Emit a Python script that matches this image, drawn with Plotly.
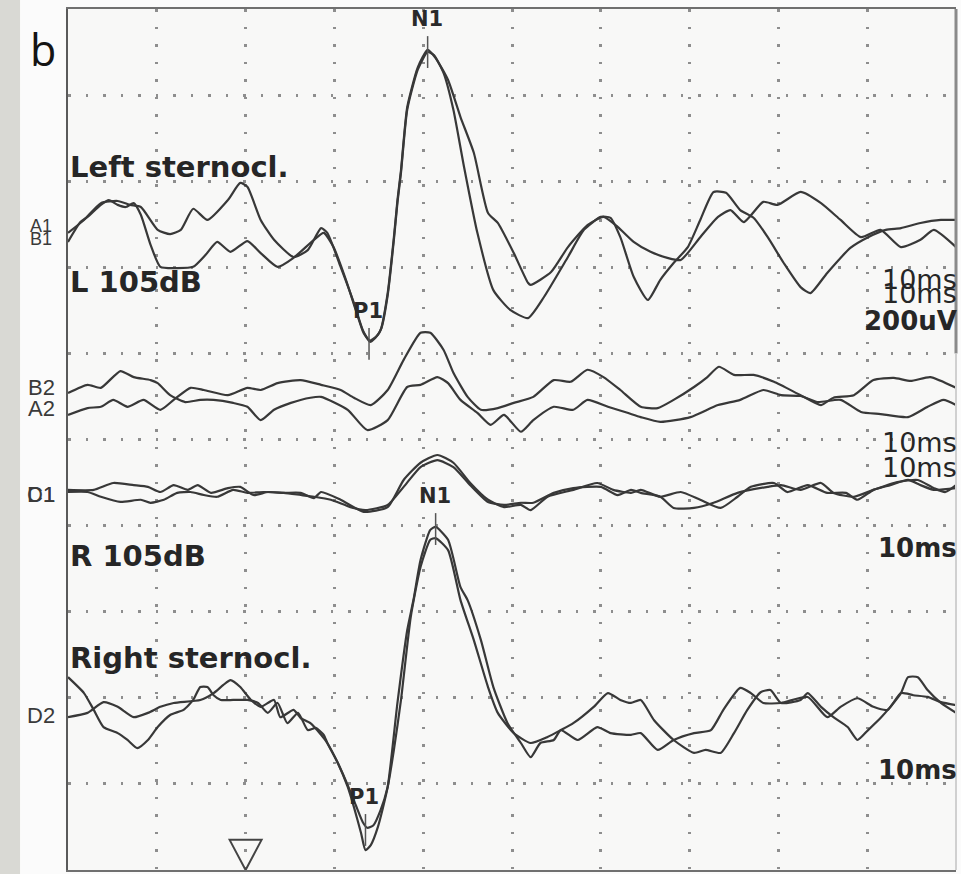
import plotly.graph_objects as go

# ---------------- data (time in ms, amplitude in µV; 10 ms/div, 200 µV/div) ----------------
channel_offset = {"1": 1500, "2": 1100, "3": 880, "4": 360}

A1 = [(-20.0, -20), (-18.2, 10), (-16.3, 49), (-14.4, 54), (-13.0, 45), (-11.8, 40), (-9.9, -13), (-8.5, -23),
      (-7.3, -13), (-5.9, 36), (-4.3, 10), (-2.0, 56), (-0.6, 96), (0.2, 87), (1.7, 10), (3.2, -36), (5.4, -76),
      (7.0, -60), (8.5, -9), (9.2, -20), (10.7, -99), (12.2, -183), (13.2, -246), (14.0, -273), (14.6, -264),
      (15.2, -246), (16.0, -160), (16.7, -30), (17.1, 56), (17.5, 126), (18.2, 272), (19.4, 365), (20.5, 405),
      (21.4, 386), (22.8, 335), (24.2, 249), (25.7, 166), (27.3, 26), (28.4, 3), (30.2, -67), (31.8, -136),
      (32.1, -141), (34.4, -111), (36.3, -53), (38.5, -2), (40.3, 17), (41.9, -6), (43.7, -41), (45.6, -64),
      (47.5, -78), (49.0, -83), (51.2, -30), (53.2, 17), (54.6, 33), (56.1, 5), (58.3, 52), (59.9, 45),
      (62.5, 75), (64.8, 49), (67.0, 10), (69.3, -30), (71.5, -13), (73.8, -53), (76.0, -36), (77.5, -13),
      (80.0, -53)]

B1 = [(-20.0, -41), (-18.6, 5), (-17.8, 17), (-16.3, 45), (-15.4, 56), (-14.4, 45), (-13.5, 40), (-12.6, 49),
      (-11.8, 22), (-10.7, -48), (-9.6, -99), (-7.9, -102), (-5.9, -99), (-4.5, -71), (-3.2, -41), (-1.7, -64),
      (0.2, -39), (1.7, -67), (3.6, -99), (5.4, -78), (7.7, -36), (8.8, -20), (9.9, -53), (11.3, -129),
      (12.4, -199), (13.3, -253), (14.0, -270), (14.8, -259), (15.3, -241), (16.0, -165), (16.7, -36),
      (17.1, 50), (17.5, 120), (18.2, 266), (19.4, 360), (20.5, 400), (21.2, 393), (22.3, 351), (23.4, 266),
      (24.6, 133), (26.1, -20), (27.9, -153), (29.8, -199), (31.8, -218), (33.6, -169), (36.3, -76),
      (38.1, -13), (40.0, 17), (41.1, 15), (42.2, -30), (43.7, -122), (45.3, -176), (46.7, -129), (48.2, -90),
      (49.8, -53), (51.2, 10), (52.7, 75), (54.1, 73), (55.7, 33), (57.2, 15), (58.8, -30), (60.6, -90),
      (62.5, -146), (63.6, -160), (65.5, -113), (68.1, -55), (70.1, -30), (72.1, -13), (73.8, -9), (76.0, 3),
      (78.3, 10), (80.0, 10)]

B2 = [(-20.0, 8), (-17.8, 27), (-16.3, 20), (-14.1, 59), (-12.6, 45), (-10.7, 38), (-9.9, 31), (-8.5, 3),
      (-6.8, -13), (-5.1, -8), (-3.6, -8), (-1.4, -15), (0.2, -24), (1.7, -55), (3.2, -31), (5.1, -15),
      (7.3, -3), (8.5, -1), (11.5, -31), (13.7, -78), (16.0, -55), (18.2, 22), (19.7, 27), (21.6, 45),
      (22.8, 31), (24.2, -8), (26.1, -38), (27.6, -66), (29.1, -43), (31.0, -82), (32.4, -55), (34.7, -24),
      (36.9, -31), (38.5, -8), (40.8, -24), (43.0, -38), (44.5, -48), (46.7, -59), (50.1, -48), (53.2, -20),
      (55.7, -8), (58.3, 15), (60.3, 3), (62.5, 1), (64.4, -13), (67.0, -8), (69.3, -36), (71.5, -41),
      (74.6, -48), (76.8, -24), (78.6, -8), (80.0, -20)]

A2 = [(-20.0, -43), (-17.8, -27), (-16.3, -24), (-14.9, -8), (-13.3, -24), (-11.5, -8), (-9.6, -31),
      (-8.1, -8), (-6.2, 20), (-4.7, 15), (-2.0, 3), (0.2, 20), (1.7, 15), (3.6, 31), (6.2, 38), (8.5, 27),
      (10.7, 15), (12.2, -3), (14.1, -20), (16.0, 15), (17.8, 85), (19.7, 148), (20.8, 148), (22.3, 108),
      (23.4, 55), (25.0, -1), (26.5, -31), (28.4, -27), (30.2, -15), (32.4, -1), (34.7, 38), (36.6, 34),
      (38.5, 62), (40.3, 45), (42.2, 15), (44.5, -24), (46.4, -27), (48.2, -8), (50.5, 22), (52.0, 45),
      (53.3, 69), (55.0, 50), (57.2, 50), (59.5, 34), (62.5, 3), (64.8, -20), (66.2, -3), (68.5, 3),
      (70.7, 38), (73.0, 43), (74.9, 36), (77.1, 45), (80.0, 20)]

C1 = [(-20.0, 3), (-17.1, 3), (-14.9, 19), (-12.6, 14), (-11.0, 10), (-9.6, -2), (-8.1, 14), (-6.5, 3),
      (-5.4, 14), (-3.9, -4), (-2.0, 7), (-0.6, 10), (0.9, -9), (2.5, -2), (4.3, -4), (6.2, -4), (7.7, -16),
      (8.5, -2), (10.7, -20), (13.3, -48), (16.0, -37), (17.8, 26), (19.7, 66), (21.6, 84), (23.4, 66),
      (25.3, 19), (27.3, -20), (29.1, -37), (31.0, -32), (32.1, -44), (34.0, -13), (36.9, 3), (39.6, 19),
      (41.4, 3), (43.4, -4), (44.5, 3), (46.7, -13), (49.0, -2), (51.2, -20), (53.5, -39), (55.4, -13),
      (56.9, 10), (59.5, 19), (61.0, -2), (63.3, 14), (65.5, -4), (67.6, -4), (68.9, -20), (70.7, 3),
      (72.6, 14), (74.6, 26), (76.0, 14), (77.5, 3), (80.0, 7)]

D1 = [(-20.0, -2), (-17.8, -2), (-16.3, -13), (-14.1, -25), (-11.8, -20), (-10.7, -27), (-9.2, -20),
      (-7.7, -4), (-6.2, -2), (-4.7, -9), (-3.2, -13), (-1.4, 3), (0.2, -4), (2.0, -2), (4.3, -4), (6.2, -9),
      (7.7, -13), (9.6, -20), (11.8, -37), (13.5, -44), (16.0, -32), (17.8, 10), (19.7, 56), (21.6, 72),
      (23.4, 56), (25.3, 14), (27.3, -25), (29.1, -32), (31.0, -27), (32.4, -27), (34.7, -4), (36.9, 7),
      (40.0, 10), (41.9, -9), (43.4, 3), (44.5, -4), (46.7, -13), (48.2, -39), (50.5, -39), (52.7, -27),
      (55.4, -4), (58.8, 10), (60.3, 14), (62.5, 3), (64.8, 19), (66.2, -4), (68.5, -13), (70.7, 3),
      (73.4, 21), (75.7, 26), (77.5, 7), (78.8, -2), (80.0, 14)]

D2 = [(-20.0, 88), (-18.2, 51), (-17.1, 12), (-16.0, -28), (-14.4, -42), (-13.3, -58), (-12.2, -77),
      (-11.0, -58), (-9.9, -28), (-8.5, 0), (-7.0, 12), (-5.9, 35), (-5.1, 65), (-4.3, 65), (-3.6, 46),
      (-2.8, 35), (-1.4, 35), (0.2, 35), (1.4, 28), (2.5, 5), (3.6, 28), (4.7, -19), (5.9, 5), (7.0, -35),
      (7.9, -30), (8.8, -46), (9.2, -65), (10.4, -112), (11.5, -167), (12.2, -214), (13.0, -274),
      (13.5, -314), (14.1, -302), (14.9, -260), (16.0, -167), (17.1, 28), (18.2, 197), (18.9, 267),
      (19.7, 360), (20.8, 430), (21.4, 437), (22.8, 407), (24.2, 297), (25.0, 267), (26.5, 174), (27.9, 65),
      (29.5, -19), (31.0, -65), (32.1, -98), (33.2, -65), (34.7, -58), (35.5, -35), (37.4, -58), (39.6, -28),
      (41.1, -42), (43.4, -46), (44.5, -42), (46.4, -81), (48.2, -58), (50.5, -42), (52.4, -35), (53.8, 12),
      (55.7, 63), (56.9, 51), (58.3, 28), (60.3, 28), (63.3, 42), (65.5, -5), (67.0, 19), (68.9, 39),
      (70.7, 19), (72.3, 12), (73.8, 51), (75.2, 46), (76.8, 42), (78.3, 30), (80.0, 23)]

C2 = [(-20.0, -5), (-17.8, 5), (-16.0, 30), (-14.4, 19), (-12.6, -5), (-11.0, 5), (-9.6, 19), (-8.1, 28),
      (-5.1, 35), (-3.6, 51), (-2.5, 70), (-1.7, 81), (-0.6, 65), (0.6, 35), (1.7, 19), (3.2, 35), (3.9, -5),
      (5.4, 12), (6.2, -7), (7.3, -19), (8.5, -46), (9.2, -65), (10.4, -112), (11.5, -163), (12.4, -209),
      (13.2, -249), (13.7, -262), (14.4, -256), (15.2, -221), (16.0, -167), (16.7, -81), (17.5, 35),
      (18.6, 228), (19.7, 344), (20.8, 407), (21.4, 411), (22.8, 383), (24.2, 267), (25.7, 174), (27.3, 65),
      (28.4, 5), (30.2, -42), (32.1, -65), (34.0, -51), (35.5, -35), (36.9, -19), (39.2, 19), (40.8, 51),
      (42.2, 35), (43.4, 28), (44.5, 35), (46.0, -12), (48.2, -58), (50.5, -88), (51.8, -81), (53.5, -88),
      (55.0, -42), (56.5, 12), (58.0, 53), (59.1, 58), (60.3, 28), (62.5, 35), (63.3, 51), (64.8, 19),
      (66.2, -5), (67.8, -28), (68.9, -58), (70.1, -35), (71.5, -7), (72.6, 19), (73.8, 51), (74.6, 88),
      (75.7, 88), (76.8, 58), (78.3, 28), (80.0, 5)]

traces = [("A1", "1", A1), ("B1", "1", B1), ("B2", "2", B2), ("A2", "2", A2),
          ("C1", "3", C1), ("D1", "3", D1), ("D2", "4", D2), ("C2", "4", C2)]

# peak markers
marker_label = ["N1", "P1", "N1", "P1"]
marker_channel = ["1", "1", "4", "4"]
marker_latency = [20.5, 13.9, 21.4, 13.5]
marker_amp = [405, -273, 437, -262]

stim_latency = 0.0

# ---------------- figure ----------------
FONT = "DejaVu Sans"
TRACE_COLOR = "#383838"
fig = go.Figure()

for name, ch, pts in traces:
    off = channel_offset[ch]
    fig.add_trace(go.Scatter(
        x=[p[0] for p in pts], y=[off + p[1] for p in pts], mode="lines", name=name,
        line=dict(color=TRACE_COLOR, width=2.2, shape="spline", smoothing=0.55),
        hoverinfo="skip", showlegend=False))

annotations = []
for lab, ch, lat, amp in zip(marker_label, marker_channel, marker_latency, marker_amp):
    yv = channel_offset[ch] + amp
    fig.add_trace(go.Scatter(x=[lat, lat], y=[yv + 32, yv - 42], mode="lines",
                             line=dict(color="#555555", width=1.5), hoverinfo="skip", showlegend=False))
    annotations.append(dict(x=lat, y=yv, xref="x", yref="y", text="<b>%s</b>" % lab, showarrow=False,
                            yshift=31, xshift=-1, font=dict(family=FONT, size=21, color="#2a2a2a")))

# stimulus marker (open triangle)
fig.add_shape(type="path", xref="x", yref="y",
              path="M %.2f,70 L %.2f,70 L %.2f,0 Z" % (stim_latency - 1.8, stim_latency + 1.8, stim_latency),
              line=dict(color="#444444", width=2), fillcolor="rgba(0,0,0,0)")

# left gray strip of the scanned page and right frame edge
fig.add_shape(type="rect", xref="paper", yref="paper", x0=-0.0766, x1=-0.054, y0=-0.02, y1=1.02,
              fillcolor="#d9d9d4", line=dict(width=0), layer="below")
fig.add_shape(type="line", xref="paper", yref="paper", x0=1, x1=1, y0=0.6, y1=1,
              line=dict(color="#8a8a8a", width=3))
fig.add_shape(type="line", xref="paper", yref="paper", x0=1, x1=1, y0=0, y1=0.6,
              line=dict(color="#d0d0d0", width=2))

# text labels
big = dict(family=FONT, size=29, color="#262626")
for txt, yv in [("Left sternocl.", 1633), ("L 105dB", 1366), ("R 105dB", 729), ("Right sternocl.", 492)]:
    annotations.append(dict(x=0.0, y=yv, xref="paper", yref="y", xanchor="left", yanchor="middle",
                            text="<b>%s</b>" % txt, showarrow=False, font=big))

right_labels = [("10ms", 1371, False), ("10ms", 1338, False), ("200uV", 1275, True), ("10ms", 992, False),
                ("10ms", 936, False), ("10ms", 748, True), ("10ms", 232, True)]
for txt, yv, bold in right_labels:
    annotations.append(dict(x=1.003, y=yv, xref="paper", yref="y", xanchor="right", yanchor="middle",
                            text=("<b>%s</b>" % txt) if bold else txt, showarrow=False,
                            font=dict(family=FONT, size=27 if not bold else 26, color="#262626")))

chan_labels = [("A1", 1497, 18), ("B1", 1465, 18), ("B2", 1120, 22), ("A2", 1071, 22),
               ("C1", 873, 22), ("D1", 873, 22), ("D2", 358, 22)]
for txt, yv, sz in chan_labels:
    annotations.append(dict(x=-0.0304, y=yv, xref="paper", yref="y", xanchor="center", yanchor="middle",
                            text=txt, showarrow=False,
                            font=dict(family="Liberation Sans", size=sz, color="#3a3a3a")))

annotations.append(dict(x=-0.028, y=0.953, xref="paper", yref="paper", xanchor="center", yanchor="middle",
                        text="b", showarrow=False, font=dict(family="Open Sans", size=43, color="#141414")))

grid = dict(showgrid=True, gridcolor="#8e8e8e", gridwidth=2.6, griddash="2.6px,14.9px",
            zeroline=False, showticklabels=False, ticks="")
fig.update_layout(
    width=961, height=874,
    margin=dict(l=68, r=5, t=9, b=4),
    paper_bgcolor="#fbfbfb", plot_bgcolor="#f8f8f7",
    xaxis=dict(range=[-20, 80], tick0=-20, dtick=10, showline=True, linecolor="#707070",
               linewidth=2, mirror=True, **grid),
    yaxis=dict(range=[0, 2000], tick0=0, dtick=200, showline=True, linecolor="#5a5a5a",
               linewidth=2, mirror=False, **grid),
    annotations=annotations,
    showlegend=False,
)

fig.write_html("out.html")
